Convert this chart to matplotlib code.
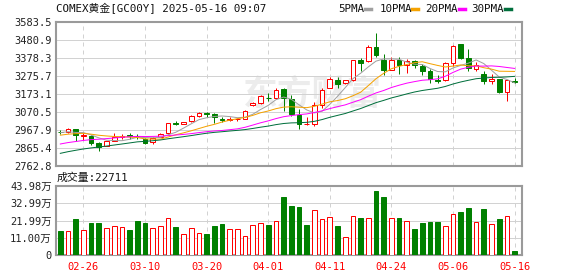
import matplotlib
matplotlib.use("Agg")
import matplotlib.pyplot as plt
from matplotlib.lines import Line2D
import numpy as np

plt.rcParams['font.family'] = ['DejaVu Sans Mono', 'Noto Sans CJK SC']

# 日期 (COMEX 黄金 日K)
dates = ["02-21", "02-24", "02-25", "02-26", "02-27", "02-28", "03-03", "03-04", "03-05", "03-06",
         "03-07", "03-10", "03-11", "03-12", "03-13", "03-14", "03-17", "03-18", "03-19", "03-20",
         "03-21", "03-24", "03-25", "03-26", "03-27", "03-28", "03-31", "04-01", "04-02", "04-03",
         "04-04", "04-07", "04-08", "04-09", "04-10", "04-11", "04-14", "04-15", "04-16", "04-17",
         "04-21", "04-22", "04-23", "04-24", "04-25", "04-28", "04-29", "04-30", "05-01", "05-02",
         "05-05", "05-06", "05-07", "05-08", "05-09", "05-12", "05-13", "05-14", "05-15", "05-16"]

opens = [2959, 2955, 2972, 2934, 2935, 2894, 2878, 2905, 2930, 2937,
         2935, 2915, 2900, 2930, 2949, 3008, 3002, 3017, 3048, 3065,
         3059, 3031, 3027, 3030, 3032, 3109, 3122, 3152, 3150, 3200,
         3143, 3055, 3003, 3004, 3112, 3209, 3251, 3236, 3251, 3365,
         3359, 3441, 3369, 3312, 3369, 3340, 3359, 3331, 3304, 3253,
         3255, 3351, 3456, 3378, 3318, 3285, 3245, 3257, 3185, 3247]
highs = [2968, 2979, 2975, 2949, 2937, 2901, 2908, 2949, 2945, 2950,
         2948, 2922, 2928, 2950, 3008, 3018, 3016, 3055, 3068, 3072,
         3066, 3040, 3040, 3038, 3080, 3130, 3170, 3180, 3210, 3205,
         3169, 3086, 3042, 3128, 3210, 3270, 3270, 3255, 3368, 3378,
         3451, 3521, 3400, 3384, 3384, 3370, 3365, 3342, 3314, 3283,
         3357, 3451, 3460, 3431, 3357, 3302, 3285, 3260, 3253, 3262]
lows = [2947, 2953, 2907, 2910, 2881, 2850, 2876, 2903, 2915, 2915,
        2918, 2890, 2890, 2927, 2947, 2995, 3000, 3015, 3040, 3044,
        3010, 3013, 3020, 3022, 3030, 3105, 3115, 3132, 3145, 3075,
        3046, 2975, 2995, 2991, 3096, 3205, 3210, 3232, 3245, 3302,
        3355, 3384, 3280, 3310, 3289, 3295, 3320, 3284, 3236, 3236,
        3250, 3331, 3375, 3302, 3303, 3230, 3230, 3180, 3132, 3236]
closes = [2956, 2972, 2940, 2939, 2892, 2873, 2905, 2930, 2935, 2932,
          2931, 2896, 2925, 2945, 3006, 3004, 3013, 3048, 3063, 3061,
          3040, 3027, 3031, 3032, 3074, 3124, 3162, 3149, 3194, 3150,
          3061, 3004, 3003, 3109, 3198, 3257, 3232, 3251, 3365, 3351,
          3439, 3397, 3312, 3369, 3337, 3359, 3337, 3304, 3257, 3249,
          3350, 3447, 3378, 3321, 3340, 3247, 3257, 3185, 3251, 3243]
# 02-21 이전 종가 (이동평균 계산용, 화면 추정)
prev_closes = [2690, 2700, 2715, 2710, 2720, 2745, 2750, 2760, 2750, 2745,
               2810, 2820, 2815, 2800, 2825, 2835, 2860, 2855, 2870, 2890,
               2915, 2910, 2920, 2940, 2935, 2945, 2960, 2945, 2958]
volumes = [153000, 151000, 229000, 159000, 204000, 204000, 170000, 183000, 176000, 159000,
           217000, 204000, 170000, 183000, 234000, 179000, 132000, 170000, 140000, 134000,
           185000, 198000, 164000, 164000, 119000, 189000, 202000, 191000, 215000, 370000,
           315000, 306000, 191000, 285000, 227000, 240000, 185000, 113000, 247000, 236000,
           234000, 408000, 370000, 234000, 236000, 215000, 166000, 204000, 210000, 210000,
           183000, 259000, 274000, 300000, 208000, 293000, 196000, 229000, 247000, 22711]

price_ticks = [2762.8, 2865.4, 2967.9, 3070.5, 3173.1, 3275.7, 3378.3, 3480.9, 3583.5]
vol_ticks = [0, 11.00, 21.99, 32.99, 43.98]
date_ticks = ["02-26", "03-10", "03-20", "04-01", "04-11", "04-24", "05-06", "05-16"]
ma_periods = [5, 10, 20, 30]

RED = '#ff0000'
GREEN = '#008000'
ma_colors = ['#a0a0a0', '#f5a200', '#ff00ff', '#006f3c']
GRID = '#d2d2d2'
FRAME = '#9a9a9a'
PX = 0.72  # 1 픽셀 선 굵기

o = np.array(opens, float)
h = np.array(highs, float)
l = np.array(lows, float)
c = np.array(closes, float)
x = np.arange(len(dates))
up = c >= o
vol = np.array(volumes, float) / 1e4
all_close = np.concatenate([prev_closes, c])

fig = plt.figure(figsize=(5.78, 2.76), dpi=100)
W, H = 578, 276
ax = fig.add_axes([56 / W, 1 - 166 / H, 466 / W, 144 / H])
axv = fig.add_axes([56 / W, 1 - 255 / H, 466 / W, 69 / H])

tick_idx = [dates.index(d) for d in date_ticks]

for a in (ax, axv):
    a.set_xlim(-0.56, len(dates) - 0.04)
    for s in a.spines.values():
        s.set_color(FRAME)
        s.set_linewidth(1.5)
    a.tick_params(length=0, labelsize=7.5, colors='#222222', pad=3)
    for i in tick_idx:
        a.axvline(i, color=GRID, lw=PX, ls=(0, (4, 4)), zorder=0)

# 워터마크
ax.text(0.55, 0.5, "东方财富", transform=ax.transAxes, ha='center', va='center',
        fontsize=25, color='#ececec', family=['Noto Sans CJK SC'], fontweight='bold', zorder=0)

# 가격 패널
ax.set_ylim(price_ticks[0], price_ticks[-1])
ax.set_yticks(price_ticks)
ax.set_yticklabels([f"{t:.1f}" for t in price_ticks])
ax.set_xticks([])
for t in price_ticks[1:-1]:
    ax.axhline(t, color=GRID, lw=PX, zorder=0)

cols = np.where(up, RED, GREEN)
ax.vlines(x, l, h, colors=cols, lw=PX, zorder=2)
body_h = np.maximum(np.abs(c - o), 1.5)
ax.bar(x[up], body_h[up], bottom=np.minimum(o, c)[up], width=0.62,
       facecolor='white', edgecolor=RED, lw=PX, zorder=3)
ax.bar(x[~up], body_h[~up], bottom=np.minimum(o, c)[~up], width=0.62,
       facecolor=GREEN, edgecolor=GREEN, lw=PX, zorder=3)

n0 = len(prev_closes)
for p, col in zip(ma_periods, ma_colors):
    ma = np.convolve(all_close, np.ones(p) / p, mode='valid')
    ma = ma[n0 - (p - 1):]
    ax.plot(x, ma, color=col, lw=PX, zorder=4)

# 거래량 패널
axv.set_ylim(0, vol_ticks[-1])
axv.set_yticks(vol_ticks)
axv.set_yticklabels(["0"] + [f"{t:.2f}万" for t in vol_ticks[1:]])
axv.set_xticks(tick_idx)
axv.set_xticklabels(date_ticks, color=RED, fontsize=7.5)
axv.tick_params(axis='x', pad=5)
for t in vol_ticks[1:-1]:
    axv.axhline(t, color=GRID, lw=PX, zorder=0)
vup = c > o
axv.bar(x[vup], vol[vup], width=0.62, facecolor='white', edgecolor=RED, lw=PX, zorder=3)
axv.bar(x[~vup], vol[~vup], width=0.62, facecolor=GREEN, edgecolor=GREEN, lw=PX, zorder=3)

# 제목 / 범례
fig.text(56 / W, 1 - 9 / H, "COMEX黄金[GC00Y] 2025-05-16 09:07", fontsize=7.8,
         va='center', ha='left', color='#111111')
fig.text(57 / W, 1 - 178 / H, f"成交量:{volumes[-1]}", fontsize=7.8,
         va='center', ha='left', color='#111111')

leg_x = [338, 380, 425, 471]
dash_x = [365, 412, 459, 505]
for p, col, lx, dx in zip(ma_periods, ma_colors, leg_x, dash_x):
    fig.text(lx / W, 1 - 9 / H, f"{p}PMA", fontsize=7.8, va='center', ha='left', color='#111111')
    fig.add_artist(Line2D([dx / W, (dx + 6) / W], [1 - 9 / H, 1 - 9 / H],
                          transform=fig.transFigure, color=col, lw=2.5))

fig.savefig("out.png", dpi=100)
